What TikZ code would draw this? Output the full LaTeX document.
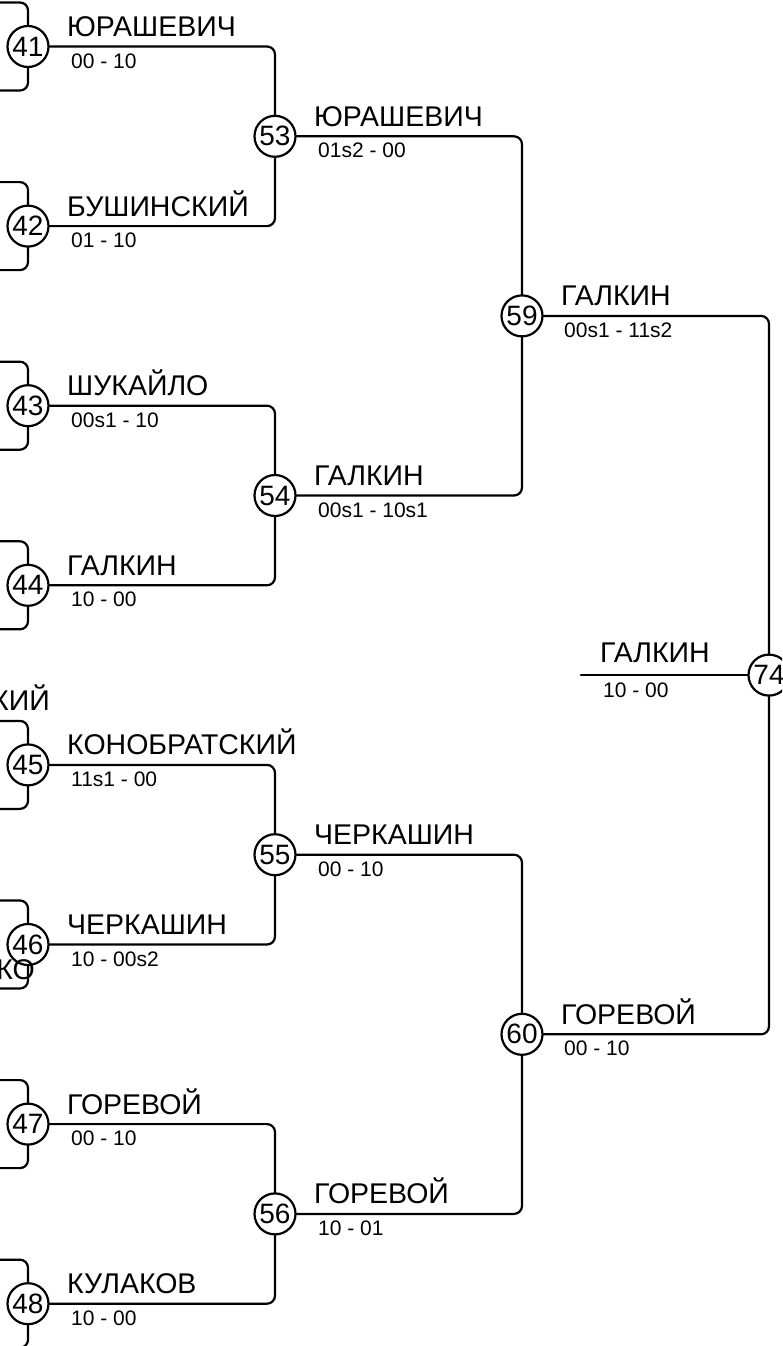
\documentclass[tikz,border=0pt]{standalone}
\usepackage{fontspec}
\setmainfont{Liberation Sans}
\begin{document}
\begin{tikzpicture}[x=1pt,y=-1pt,
  conn/.style={line width=2.2pt, rounded corners=8pt, line cap=round},
  match/.style={circle, draw, line width=2.2pt, fill=white, minimum size=41pt, inner sep=0pt, font=\fontsize{28}{28}\selectfont},
  pname/.style={anchor=base west, inner sep=0pt, font=\fontsize{28.5}{28.5}\selectfont},
  pscore/.style={anchor=base west, inner sep=0pt, font=\fontsize{21}{21}\selectfont},
  cutname/.style={anchor=base east, inner sep=0pt, font=\fontsize{28.5}{28.5}\selectfont}]
\useasboundingbox (0,0) rectangle (782,1346);
\clip (0,0) rectangle (782,1346);
% round 1
\node[match] (c41) at (28,46.5) {41};
\node[match] (c42) at (28,226.1) {42};
\node[match] (c43) at (28,405.7) {43};
\node[match] (c44) at (28,585.3) {44};
\node[match] (c45) at (28,764.9) {45};
\node[match] (c46) at (28,944.5) {46};
\node[match] (c47) at (28,1124.1) {47};
\node[match] (c48) at (28,1303.7) {48};
% round 2
\node[match] (c53) at (275,136.3) {53};
\node[match] (c54) at (275,495.5) {54};
\node[match] (c55) at (275,854.7) {55};
\node[match] (c56) at (275,1213.9) {56};
% round 3
\node[match] (c59) at (522,315.9) {59};
\node[match] (c60) at (522,1034.3) {60};
% final
\node[match] (c74) at (769,675.1) {74};
\coordinate (w) at (581,675.1);
% incoming stubs of round 1
\foreach \n/\y in {41/46.5,42/226.1,43/405.7,44/585.3,45/764.9,46/944.5,47/1124.1,48/1303.7}{
  \coordinate (t\n) at (-30,\y-44);
  \coordinate (b\n) at (-30,\y+44);
  \draw[conn] (c\n) |- (t\n);
  \draw[conn] (c\n) |- (b\n);
}
% connectors
\draw[conn] (c41) -| (c53);
\draw[conn] (c42) -| (c53);
\draw[conn] (c43) -| (c54);
\draw[conn] (c44) -| (c54);
\draw[conn] (c45) -| (c55);
\draw[conn] (c46) -| (c55);
\draw[conn] (c47) -| (c56);
\draw[conn] (c48) -| (c56);
\draw[conn] (c53) -| (c59);
\draw[conn] (c54) -| (c59);
\draw[conn] (c55) -| (c60);
\draw[conn] (c56) -| (c60);
\draw[conn] (c59) -| (c74);
\draw[conn] (c60) -| (c74);
\draw[conn] (w) -- (c74);
% names and scores
\node[pname] (n41) at ([xshift=39pt,yshift=10pt]c41.center) {ЮРАШЕВИЧ};
\node[pscore] (s41) at ([xshift=43pt,yshift=-21.5pt]c41.center) {00 - 10};
\node[pname] (n42) at ([xshift=39pt,yshift=10pt]c42.center) {БУШИНСКИЙ};
\node[pscore] (s42) at ([xshift=43pt,yshift=-21.5pt]c42.center) {01 - 10};
\node[pname] (n43) at ([xshift=39pt,yshift=10pt]c43.center) {ШУКАЙЛО};
\node[pscore] (s43) at ([xshift=43pt,yshift=-21.5pt]c43.center) {00s1 - 10};
\node[pname] (n44) at ([xshift=39pt,yshift=10pt]c44.center) {ГАЛКИН};
\node[pscore] (s44) at ([xshift=43pt,yshift=-21.5pt]c44.center) {10 - 00};
\node[pname] (n45) at ([xshift=39pt,yshift=10pt]c45.center) {КОНОБРАТСКИЙ};
\node[pscore] (s45) at ([xshift=43pt,yshift=-21.5pt]c45.center) {11s1 - 00};
\node[pname] (n46) at ([xshift=39pt,yshift=10pt]c46.center) {ЧЕРКАШИН};
\node[pscore] (s46) at ([xshift=43pt,yshift=-21.5pt]c46.center) {10 - 00s2};
\node[pname] (n47) at ([xshift=39pt,yshift=10pt]c47.center) {ГОРЕВОЙ};
\node[pscore] (s47) at ([xshift=43pt,yshift=-21.5pt]c47.center) {00 - 10};
\node[pname] (n48) at ([xshift=39pt,yshift=10pt]c48.center) {КУЛАКОВ};
\node[pscore] (s48) at ([xshift=43pt,yshift=-21.5pt]c48.center) {10 - 00};
\node[pname] (n53) at ([xshift=39pt,yshift=10pt]c53.center) {ЮРАШЕВИЧ};
\node[pscore] (s53) at ([xshift=43pt,yshift=-21.5pt]c53.center) {01s2 - 00};
\node[pname] (n54) at ([xshift=39pt,yshift=10pt]c54.center) {ГАЛКИН};
\node[pscore] (s54) at ([xshift=43pt,yshift=-21.5pt]c54.center) {00s1 - 10s1};
\node[pname] (n55) at ([xshift=39pt,yshift=10pt]c55.center) {ЧЕРКАШИН};
\node[pscore] (s55) at ([xshift=43pt,yshift=-21.5pt]c55.center) {00 - 10};
\node[pname] (n56) at ([xshift=39pt,yshift=10pt]c56.center) {ГОРЕВОЙ};
\node[pscore] (s56) at ([xshift=43pt,yshift=-21.5pt]c56.center) {10 - 01};
\node[pname] (n59) at ([xshift=39pt,yshift=10pt]c59.center) {ГАЛКИН};
\node[pscore] (s59) at ([xshift=42pt,yshift=-21.5pt]c59.center) {00s1 - 11s2};
\node[pname] (n60) at ([xshift=39pt,yshift=10pt]c60.center) {ГОРЕВОЙ};
\node[pscore] (s60) at ([xshift=42pt,yshift=-21.5pt]c60.center) {00 - 10};
\node[pname] (n74) at ([xshift=19pt,yshift=12.5pt]w) {ГАЛКИН};
\node[pscore] (s74) at ([xshift=22pt,yshift=-22.5pt]w) {10 - 00};
% names cut off at the left edge
\node[cutname] (x45) at (50,710.5) {КИЙ};
\node[cutname] (x46) at (35,979) {КО};
\end{tikzpicture}
\end{document}
